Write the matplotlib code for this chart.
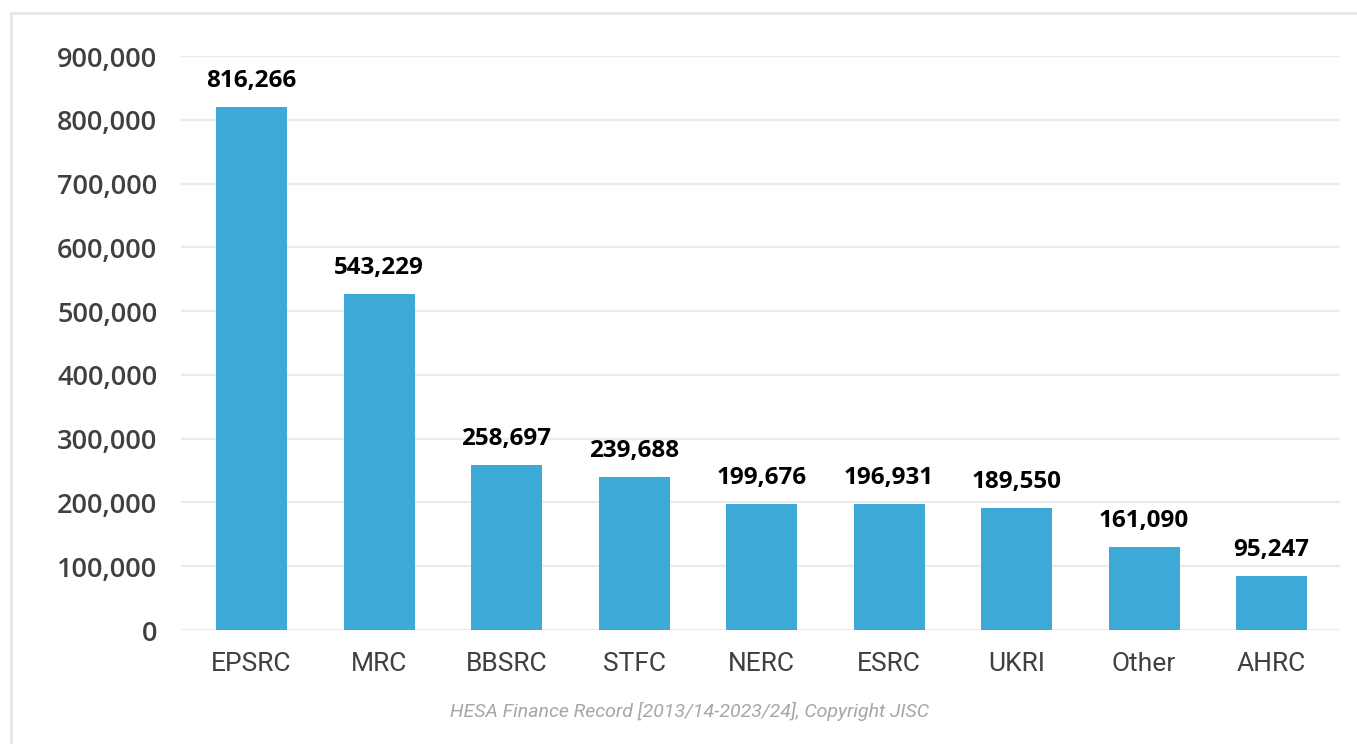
import matplotlib.pyplot as plt
from matplotlib.patches import Rectangle

funders = ['EPSRC', 'MRC', 'BBSRC', 'STFC', 'NERC', 'ESRC', 'UKRI', 'Other', 'AHRC']
bar_values = [820000, 527000, 258700, 239700, 197800, 197800, 191000, 130000, 85000]
bar_labels = ['816,266', '543,229', '258,697', '239,688', '199,676', '196,931', '189,550', '161,090', '95,247']
y_ticks = [0, 100000, 200000, 300000, 400000, 500000, 600000, 700000, 800000, 900000]

bar_color = '#3DA9D7'
grid_color = '#EBEBEB'

fig = plt.figure(figsize=(13.57, 7.44), dpi=100)
ax = fig.add_axes([0.1334, 0.1532, 0.8541, 0.7715])

ax.bar(range(len(funders)), bar_values, width=0.557, color=bar_color, zorder=3)

for i, (v, lab) in enumerate(zip(bar_values, bar_labels)):
    ax.annotate(lab, (i, v), xytext=(0, 14.5), textcoords='offset points',
                ha='center', va='baseline', fontsize=17.5, fontweight='bold',
                family='Open Sans', color='black')

ax.set_xlim(-0.553, 8.537)
ax.set_ylim(0, 900000)
ax.set_yticks(y_ticks)
ax.set_yticklabels([f'{t:,}' for t in y_ticks], fontsize=19.5, fontweight='semibold',
                   family='Open Sans', color='#404040')
ax.set_xticks(range(len(funders)))
ax.set_xticklabels(funders, fontsize=19, family='Roboto', color='#404040')
ax.tick_params(axis='y', length=0, pad=17)
ax.tick_params(axis='x', length=0, pad=15.5)

ax.grid(axis='y', color=grid_color, linewidth=1.6, zorder=0)
for s in ax.spines.values():
    s.set_visible(False)

fig.text(0.508, 0.044, 'HESA Finance Record [2013/14-2023/24], Copyright JISC',
         ha='center', va='center', fontsize=14, style='italic', color='#A6A6A6',
         family='Roboto')

# light frame round the chart area
fig.patches.append(Rectangle((11 / 1357, -0.05), 1.1, 1 - 13 / 744 + 0.05,
                             transform=fig.transFigure, fill=False,
                             edgecolor='#E6E6E6', linewidth=2))

fig.savefig('out.png', dpi=100)
